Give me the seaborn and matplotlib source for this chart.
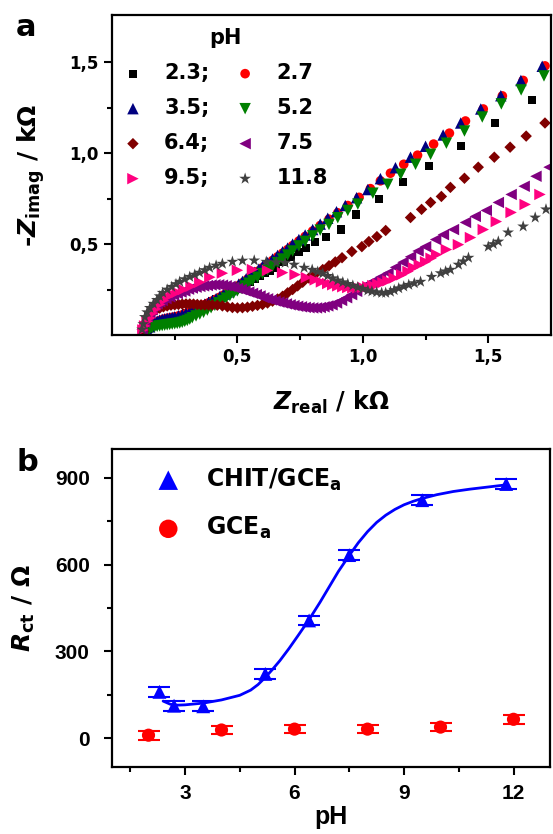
import matplotlib
matplotlib.use('Agg')
import matplotlib.pyplot as plt
from matplotlib.ticker import FixedLocator, FuncFormatter
import seaborn as sns

# ---- panel a: Nyquist plots (Z' / Z'' in kOhm) ----
x23 = [0.13, 0.145, 0.16, 0.175, 0.19, 0.205, 0.22, 0.235, 0.25, 0.265,
       0.28, 0.295, 0.31, 0.325, 0.34, 0.355, 0.37, 0.385, 0.40, 0.415,
       0.43, 0.445, 0.46, 0.475, 0.49, 0.51, 0.53, 0.55, 0.57, 0.59,
       0.61, 0.63, 0.655, 0.685, 0.714, 0.744, 0.774, 0.81, 0.853, 0.913,
       0.972, 1.063, 1.159, 1.262, 1.393, 1.528, 1.675]
y23 = [0.01, 0.035, 0.055, 0.068, 0.076, 0.083, 0.088, 0.092, 0.097, 0.103,
       0.11, 0.118, 0.126, 0.135, 0.145, 0.155, 0.165, 0.175, 0.185, 0.195,
       0.205, 0.215, 0.226, 0.237, 0.248, 0.262, 0.277, 0.292, 0.31, 0.327,
       0.342, 0.355, 0.37, 0.40, 0.431, 0.455, 0.48, 0.51, 0.541, 0.58,
       0.663, 0.746, 0.84, 0.928, 1.039, 1.166, 1.293]

x27 = [0.13, 0.145, 0.16, 0.175, 0.19, 0.205, 0.22, 0.235, 0.25, 0.265,
       0.28, 0.295, 0.31, 0.325, 0.34, 0.355, 0.37, 0.385, 0.40, 0.415,
       0.43, 0.445, 0.46, 0.475, 0.49, 0.505, 0.52, 0.54, 0.56, 0.58,
       0.60, 0.62, 0.64, 0.66, 0.68, 0.70, 0.72, 0.745, 0.77, 0.80,
       0.83, 0.865, 0.90, 0.94, 0.985, 1.03, 1.07, 1.11, 1.163, 1.218,
       1.282, 1.345, 1.409, 1.48, 1.556, 1.639, 1.726]
y27 = [0.012, 0.035, 0.055, 0.07, 0.08, 0.087, 0.092, 0.096, 0.10, 0.105,
       0.111, 0.118, 0.126, 0.137, 0.147, 0.157, 0.167, 0.177, 0.187, 0.197,
       0.208, 0.22, 0.232, 0.245, 0.258, 0.272, 0.287, 0.307, 0.33, 0.35,
       0.37, 0.39, 0.41, 0.43, 0.45, 0.47, 0.492, 0.517, 0.542, 0.572,
       0.602, 0.637, 0.672, 0.712, 0.757, 0.805, 0.848, 0.89, 0.939, 0.989,
       1.05, 1.11, 1.177, 1.243, 1.315, 1.40, 1.48]

x35 = [0.13, 0.14, 0.15, 0.16, 0.17, 0.18, 0.19, 0.20, 0.21, 0.22,
       0.23, 0.24, 0.25, 0.265, 0.28, 0.295, 0.31, 0.325, 0.34, 0.355,
       0.37, 0.385, 0.40, 0.415, 0.43, 0.445, 0.46, 0.475, 0.49, 0.505,
       0.52, 0.535, 0.55, 0.567, 0.585, 0.60, 0.62, 0.64, 0.66, 0.68,
       0.70, 0.72, 0.745, 0.77, 0.80, 0.83, 0.86, 0.895, 0.93, 0.975,
       1.02, 1.07, 1.13, 1.19, 1.25, 1.32, 1.39, 1.47, 1.55, 1.63,
       1.715]
y35 = [0.01, 0.028, 0.045, 0.058, 0.068, 0.076, 0.082, 0.086, 0.089, 0.092,
       0.094, 0.097, 0.10, 0.106, 0.112, 0.12, 0.128, 0.14, 0.15, 0.16,
       0.17, 0.18, 0.19, 0.20, 0.212, 0.225, 0.237, 0.25, 0.262, 0.28,
       0.295, 0.31, 0.326, 0.345, 0.362, 0.378, 0.398, 0.418, 0.438, 0.458,
       0.478, 0.50, 0.525, 0.55, 0.58, 0.61, 0.642, 0.678, 0.712, 0.755,
       0.80, 0.86, 0.92, 0.978, 1.038, 1.10, 1.166, 1.243, 1.316, 1.40,
       1.478]

x52 = [0.13, 0.14, 0.15, 0.16, 0.17, 0.18, 0.19, 0.20, 0.21, 0.22,
       0.23, 0.24, 0.25, 0.26, 0.27, 0.28, 0.29, 0.30, 0.31, 0.32,
       0.335, 0.35, 0.365, 0.38, 0.395, 0.41, 0.425, 0.44, 0.455, 0.47,
       0.485, 0.50, 0.515, 0.53, 0.545, 0.56, 0.58, 0.60, 0.62, 0.64,
       0.66, 0.68, 0.70, 0.72, 0.745, 0.77, 0.80, 0.83, 0.865, 0.90,
       0.94, 0.98, 1.04, 1.099, 1.151, 1.21, 1.27, 1.333, 1.405, 1.476,
       1.552, 1.631, 1.722]
y52 = [0.008, 0.02, 0.032, 0.04, 0.045, 0.048, 0.05, 0.052, 0.054, 0.056,
       0.058, 0.06, 0.062, 0.064, 0.066, 0.07, 0.075, 0.08, 0.087, 0.095,
       0.105, 0.115, 0.125, 0.137, 0.15, 0.163, 0.177, 0.19, 0.203, 0.217,
       0.23, 0.243, 0.256, 0.27, 0.285, 0.30, 0.318, 0.338, 0.358, 0.378,
       0.398, 0.418, 0.44, 0.462, 0.49, 0.515, 0.545, 0.577, 0.608, 0.645,
       0.685, 0.72, 0.78, 0.829, 0.884, 0.939, 0.994, 1.055, 1.122, 1.199,
       1.271, 1.348, 1.425]

x64 = [0.125, 0.133, 0.14, 0.15, 0.163, 0.175, 0.19, 0.205, 0.22, 0.235,
       0.25, 0.265, 0.28, 0.295, 0.31, 0.325, 0.34, 0.355, 0.37, 0.385,
       0.40, 0.42, 0.44, 0.46, 0.48, 0.50, 0.52, 0.54, 0.56, 0.58,
       0.60, 0.62, 0.64, 0.66, 0.68, 0.70, 0.72, 0.74, 0.76, 0.785,
       0.81, 0.84, 0.865, 0.89, 0.917, 0.956, 0.996, 1.024, 1.056, 1.091,
       1.19, 1.234, 1.27, 1.313, 1.349, 1.405, 1.46, 1.524, 1.587, 1.651,
       1.726]
y64 = [0.02, 0.06, 0.094, 0.113, 0.127, 0.138, 0.148, 0.155, 0.16, 0.164,
       0.166, 0.168, 0.17, 0.171, 0.171, 0.17, 0.168, 0.166, 0.165, 0.165,
       0.165, 0.164, 0.16, 0.155, 0.151, 0.149, 0.15, 0.153, 0.158, 0.163,
       0.168, 0.176, 0.186, 0.198, 0.213, 0.232, 0.25, 0.27, 0.29, 0.313,
       0.335, 0.36, 0.381, 0.402, 0.425, 0.459, 0.486, 0.514, 0.541, 0.575,
       0.646, 0.691, 0.729, 0.762, 0.812, 0.862, 0.923, 0.978, 1.033, 1.094,
       1.166]

x75 = [0.12, 0.13, 0.14, 0.151, 0.16, 0.17, 0.18, 0.19, 0.20, 0.215,
       0.23, 0.245, 0.26, 0.275, 0.29, 0.305, 0.32, 0.335, 0.35, 0.365,
       0.38, 0.395, 0.41, 0.425, 0.44, 0.455, 0.47, 0.485, 0.50, 0.515,
       0.53, 0.545, 0.56, 0.575, 0.59, 0.605, 0.62, 0.635, 0.65, 0.665,
       0.68, 0.695, 0.71, 0.725, 0.74, 0.755, 0.77, 0.785, 0.80, 0.815,
       0.83, 0.845, 0.86, 0.877, 0.895, 0.915, 0.935, 0.955, 0.975, 0.996,
       1.02, 1.045, 1.07, 1.10, 1.13, 1.16, 1.19, 1.22, 1.25, 1.29,
       1.321, 1.361, 1.409, 1.448, 1.492, 1.54, 1.591, 1.643, 1.69, 1.742]
y75 = [0.03, 0.07, 0.10, 0.122, 0.14, 0.16, 0.172, 0.182, 0.19, 0.20,
       0.21, 0.22, 0.228, 0.236, 0.242, 0.252, 0.258, 0.263, 0.267, 0.27,
       0.272, 0.275, 0.276, 0.276, 0.274, 0.271, 0.267, 0.262, 0.256, 0.25,
       0.243, 0.236, 0.229, 0.222, 0.215, 0.205, 0.199, 0.193, 0.187, 0.181,
       0.176, 0.171, 0.166, 0.162, 0.158, 0.155, 0.152, 0.15, 0.149, 0.149,
       0.151, 0.155, 0.16, 0.166, 0.176, 0.19, 0.205, 0.222, 0.24, 0.26,
       0.28, 0.298, 0.318, 0.34, 0.372, 0.40, 0.43, 0.462, 0.486, 0.525,
       0.552, 0.58, 0.619, 0.652, 0.685, 0.729, 0.773, 0.818, 0.873, 0.923]

x95 = [0.123, 0.13, 0.14, 0.151, 0.162, 0.175, 0.19, 0.205, 0.222, 0.24,
       0.26, 0.285, 0.315, 0.35, 0.39, 0.44, 0.50, 0.56, 0.62, 0.68,
       0.73, 0.775, 0.81, 0.835, 0.86, 0.88, 0.90, 0.92, 0.94, 0.96,
       0.98, 1.00, 1.02, 1.04, 1.06, 1.08, 1.10, 1.125, 1.155, 1.18,
       1.202, 1.225, 1.25, 1.272, 1.294, 1.333, 1.381, 1.429, 1.48, 1.532,
       1.591, 1.647, 1.706]
y95 = [0.028, 0.05, 0.075, 0.094, 0.12, 0.143, 0.168, 0.19, 0.21, 0.225,
       0.235, 0.25, 0.268, 0.29, 0.318, 0.34, 0.356, 0.36, 0.355, 0.343,
       0.332, 0.316, 0.303, 0.292, 0.283, 0.276, 0.27, 0.265, 0.261, 0.259,
       0.26, 0.262, 0.266, 0.272, 0.28, 0.288, 0.298, 0.313, 0.331, 0.35,
       0.37, 0.386, 0.403, 0.422, 0.442, 0.47, 0.497, 0.536, 0.58, 0.624,
       0.674, 0.718, 0.773]

x118 = [0.12, 0.125, 0.131, 0.14, 0.151, 0.165, 0.179, 0.19, 0.202, 0.22,
        0.238, 0.255, 0.27, 0.29, 0.31, 0.33, 0.349, 0.37, 0.389, 0.415,
        0.44, 0.48, 0.52, 0.567, 0.615, 0.655, 0.69, 0.726, 0.766, 0.798,
        0.82, 0.84, 0.86, 0.88, 0.90, 0.92, 0.94, 0.96, 0.98, 1.00,
        1.02, 1.036, 1.055, 1.075, 1.091, 1.11, 1.125, 1.143, 1.163, 1.183,
        1.205, 1.23, 1.274, 1.31, 1.33, 1.349, 1.381, 1.40, 1.421, 1.50,
        1.52, 1.54, 1.579, 1.639, 1.687, 1.73]
y118 = [0.03, 0.06, 0.099, 0.125, 0.149, 0.172, 0.193, 0.213, 0.232, 0.25,
        0.265, 0.28, 0.293, 0.307, 0.32, 0.332, 0.343, 0.357, 0.37, 0.382,
        0.392, 0.403, 0.409, 0.41, 0.403, 0.40, 0.397, 0.387, 0.37, 0.359,
        0.348, 0.338, 0.325, 0.312, 0.30, 0.29, 0.281, 0.272, 0.262, 0.254,
        0.245, 0.24, 0.235, 0.232, 0.232, 0.238, 0.247, 0.257, 0.267, 0.276,
        0.285, 0.293, 0.32, 0.34, 0.35, 0.359, 0.387, 0.405, 0.425, 0.486,
        0.50, 0.514, 0.564, 0.597, 0.646, 0.691]

# ---- panel b: Rct vs pH ----
ph_chit = [2.3, 2.7, 3.5, 5.2, 6.4, 7.5, 9.5, 11.8]
rct_chit = [160, 112, 110, 222, 407, 633, 823, 879]
err_chit = [17, 17, 17, 17, 17, 17, 17, 17]
ph_gce = [2, 4, 6, 8, 10, 12]
rct_gce = [10, 28, 31, 31, 38, 65]
err_gce = [15, 15, 15, 15, 15, 15]
fit_ph = [2.4, 2.6, 2.8, 3.0, 3.5, 4.0, 4.5, 4.8, 5.0, 5.2, 5.4, 5.6, 5.85, 6.1,
          6.4, 6.7, 6.95, 7.2, 7.5, 7.75, 8.0, 8.25, 8.5, 8.75, 9.0, 9.25, 9.5,
          9.9, 10.35, 10.8, 11.2, 11.8]
fit_rct = [128, 117, 114, 115, 121, 132, 148, 166, 185, 210, 238, 268, 310, 355,
           410, 470, 523, 576, 632, 676, 714, 746, 771, 791, 807, 819, 829,
           842, 853, 861, 867, 876]

# style table for panel a: (label, x, y, colour, marker, size)
nyquist = [
    ('2.3', x23, y23, '#000000', 's', 34),
    ('2.7', x27, y27, '#ff0000', 'o', 48),
    ('3.5', x35, y35, '#000080', '^', 68),
    ('5.2', x52, y52, '#008000', 'v', 68),
    ('6.4', x64, y64, '#800000', 'D', 34),
    ('7.5', x75, y75, '#800080', '<', 68),
    ('9.5', x95, y95, '#ff0080', '>', 68),
    ('11.8', x118, y118, '#404040', '*', 80),
]

sns.set_style('ticks')
plt.rcParams['font.family'] = ['DejaVu Sans']
plt.rcParams['font.weight'] = 'bold'
plt.rcParams['text.color'] = 'black'
plt.rcParams['axes.labelcolor'] = 'black'
plt.rcParams['axes.labelweight'] = 'bold'
plt.rcParams['xtick.color'] = 'black'
plt.rcParams['ytick.color'] = 'black'
plt.rcParams['mathtext.fontset'] = 'custom'
plt.rcParams['mathtext.rm'] = 'DejaVu Sans:bold'
plt.rcParams['mathtext.it'] = 'DejaVu Sans:italic:bold'
plt.rcParams['mathtext.bf'] = 'DejaVu Sans:bold'

fig = plt.figure(figsize=(5.53, 8.34), dpi=100)
ax1 = fig.add_axes([112 / 553, 1 - 335 / 834, 439 / 553, 320 / 834])
ax2 = fig.add_axes([112 / 553, 1 - 767 / 834, 438 / 553, 318 / 834])

# panel a
for lab, xs, ys, col, mk, sz in nyquist:
    sns.scatterplot(x=xs, y=ys, color=col, marker=mk, s=sz, edgecolor='none',
                    linewidth=0, label=lab, ax=ax1)

ax1.set_xlim(0, 1.75)
ax1.set_ylim(0, 1.76)
ax1.xaxis.set_major_locator(FixedLocator([0.5, 1.0, 1.5]))
ax1.xaxis.set_minor_locator(FixedLocator([0.25, 0.75, 1.25]))
ax1.yaxis.set_major_locator(FixedLocator([0.5, 1.0, 1.5]))
ax1.yaxis.set_minor_locator(FixedLocator([0.25, 0.75, 1.25]))
comma = FuncFormatter(lambda v, p: f'{v:.1f}'.replace('.', ','))
ax1.xaxis.set_major_formatter(comma)
ax1.yaxis.set_major_formatter(comma)
ax1.set_xlabel(r'$Z_{\mathrm{real}}$ / k$\Omega$', fontsize=17, labelpad=16)
ax1.set_ylabel(r'-$Z_{\mathrm{imag}}$ / k$\Omega$', fontsize=18, labelpad=16)

h, l = ax1.get_legend_handles_labels()
order = [0, 2, 4, 6, 1, 3, 5, 7]
labels = ['2.3;', '3.5;', '6.4;', '9.5;', '2.7', '5.2', '7.5', '11.8']
ax1.legend([h[i] for i in order], labels, ncol=2, title='pH', frameon=False,
           loc='upper left', bbox_to_anchor=(0.005, 0.985), fontsize=15,
           title_fontsize=15, handlelength=1.0, handletextpad=1.0,
           columnspacing=1.2, labelspacing=0.72, borderaxespad=0,
           markerscale=1.0)

# panel b
ax2.errorbar(ph_chit, rct_chit, yerr=err_chit, fmt='none', ecolor='#0000ff',
             elinewidth=1.5, capsize=8, capthick=1.5)
ax2.errorbar(ph_gce, rct_gce, yerr=err_gce, fmt='none', ecolor='#ff0000',
             elinewidth=1.5, capsize=8, capthick=1.5)
sns.lineplot(x=fit_ph, y=fit_rct, color='#0000ff', linewidth=2.0, sort=False,
             ax=ax2)
sns.scatterplot(x=ph_chit, y=rct_chit, color='#0000ff', marker='^', s=100,
                edgecolor='none', label='CHIT/GCE$_{\\mathrm{a}}$', ax=ax2, zorder=5)
sns.scatterplot(x=ph_gce, y=rct_gce, color='#ff0000', marker='o', s=90,
                edgecolor='none', label='GCE$_{\\mathrm{a}}$', ax=ax2, zorder=5)

ax2.set_xlim(1, 13)
ax2.set_ylim(-100, 1000)
ax2.xaxis.set_major_locator(FixedLocator([3, 6, 9, 12]))
ax2.xaxis.set_minor_locator(FixedLocator([1.5, 4.5, 7.5, 10.5]))
ax2.yaxis.set_major_locator(FixedLocator([0, 300, 600, 900]))
ax2.yaxis.set_minor_locator(FixedLocator([150, 450, 750]))
ax2.set_xlabel('pH', fontsize=18, labelpad=2, fontfamily='Liberation Sans',
               fontweight='bold')
ax2.set_ylabel(r'$R_{\mathrm{ct}}$ / $\Omega$', fontsize=18, labelpad=13)
ax2.legend(frameon=False, loc='upper left', bbox_to_anchor=(0.08, 0.975),
           fontsize=17, handlelength=1.0, handletextpad=1.1,
           labelspacing=0.95, borderaxespad=0, markerscale=1.4)

for ax in (ax1, ax2):
    for sp in ax.spines.values():
        sp.set_linewidth(1.6)
        sp.set_color('black')
    ax.tick_params(which='major', direction='out', length=6, width=1.5,
                   top=False, right=False, colors='black')
    ax.tick_params(which='minor', direction='out', length=3.5, width=1.5,
                   top=False, right=False, colors='black')
ax1.tick_params(labelsize=12)
ax2.tick_params(axis='y', which='major', pad=10)
ax2.tick_params(axis='x', which='major', pad=6)
for t in ax2.get_xticklabels() + ax2.get_yticklabels():
    t.set_fontfamily('Liberation Sans')
    t.set_fontweight('bold')
    t.set_fontsize(15)

fig.text(0.047, 0.967, 'a', fontsize=22, ha='center', va='center')
fig.text(0.049, 0.445, 'b', fontsize=22, ha='center', va='center')

fig.savefig('out.png', dpi=100)
